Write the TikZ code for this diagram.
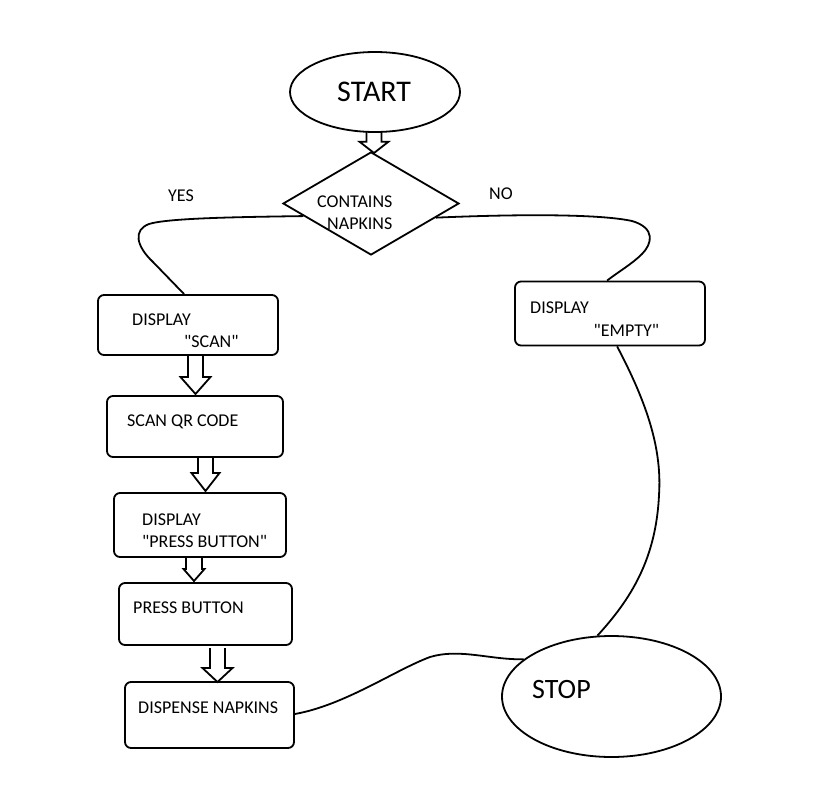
\documentclass[tikz,border=0pt]{standalone}
\usepackage{fontspec}
\setmainfont{Carlito}
\usetikzlibrary{shapes.geometric,calc}
\tikzset{
  ln/.style={line width=1.8pt, black},
  boxnode/.style={ln, draw, rounded corners=6pt, inner sep=0pt},
  ovalnode/.style={ln, draw, ellipse, inner sep=0pt},
  txt/.style={anchor=base west, inner sep=0pt, font=\fontsize{18}{22}\selectfont},
  bigtxt/.style={anchor=base west, inner sep=0pt},
}
\newcommand\blockarr[6]{% x, ytop, yhead, ytip, shaft half width, head half width
  \pgfmathsetmacro\baXa{#1-#6}%
  \pgfmathsetmacro\baXb{#1-#5}%
  \pgfmathsetmacro\baXc{#1+#5}%
  \pgfmathsetmacro\baXd{#1+#6}%
  \draw[ln, line join=miter] (\baXb,#2) -- (\baXb,#3) -- (\baXa,#3) -- (#1,#4) -- (\baXd,#3) -- (\baXc,#3) -- (\baXc,#2);
}
\newcommand\qq{\textquotedbl}
\begin{document}
\begin{tikzpicture}[x=1pt,y=-1pt]
\useasboundingbox (0,0) rectangle (818,795);
\fill[white] (0,0) rectangle (818,795);

% start
\node[ovalnode, minimum width=170pt, minimum height=80pt] (start) at (375,92) {};
\node[bigtxt, font=\fontsize{30}{34}\selectfont] (starttxt) at (337,101.5) {START};

% decision
\node[ln, draw, diamond, minimum width=176pt, minimum height=103pt, inner sep=0pt] (dia) at (371,203.5) {};
\node[txt] (dt1) at (317,207) {CONTAINS};
\node[txt] (dt2) at (327,229) {NAPKINS};

\node[txt] (yes) at (168,201.5) {YES};
\node[txt] (no) at (489,199) {NO};

% boxes
\node[boxnode, minimum width=180pt, minimum height=60pt] (scan) at (188,325) {};
\node[txt] (s1) at (132,325) {DISPLAY};
\node[txt] (s2) at (184,347) {\qq SCAN\qq};

\node[boxnode, minimum width=190pt, minimum height=64pt] (empty) at (610,313.5) {};
\node[txt] (e1) at (530,313) {DISPLAY};
\node[txt] (e2) at (593.5,336) {\qq EMPTY\qq};

\node[boxnode, minimum width=176pt, minimum height=61pt] (qr) at (195,426.5) {};
\node[txt] (q1) at (127,426) {SCAN QR CODE};

\node[boxnode, minimum width=172pt, minimum height=64pt] (dpb) at (200,525) {};
\node[txt] (p1) at (142,525) {DISPLAY};
\node[txt] (p2) at (142,547) {\qq PRESS BUTTON\qq};

\node[boxnode, minimum width=173pt, minimum height=62pt] (press) at (205.5,614) {};
\node[txt] (pr1) at (133,613) {PRESS BUTTON};

\node[boxnode, minimum width=169pt, minimum height=66pt] (disp) at (209.5,715) {};
\node[txt] (d1) at (138,713) {DISPENSE NAPKINS};

% stop
\node[ovalnode, minimum width=219pt, minimum height=121pt] (stop) at (611.5,696.5) {};
\node[bigtxt, font=\fontsize{28}{32}\selectfont] (stoptxt) at (532,698.5) {STOP};

% block arrows
\blockarr{374}{132}{141.7}{153}{7.5}{14.5}
\blockarr{195.5}{355}{377}{394}{7.5}{15}
\blockarr{205.5}{457}{473}{491}{7.5}{14}
\blockarr{194}{557}{569}{581}{8}{10.5}
\blockarr{217.5}{648}{668}{682}{7.5}{15}

% connector end points
\coordinate (yesS) at ($(dia.west)!0.24!(dia.south)$);
\coordinate (yesE) at ([xshift=87pt]scan.north west);
\coordinate (noS) at ($(dia.east)!0.27!(dia.south)$);
\coordinate (noE) at ([xshift=93pt]empty.north west);
\coordinate (emS) at ([xshift=103pt]empty.south west);
\coordinate (emE) at (stop.{103});
\coordinate (dsS) at ([yshift=1pt]disp.east);
\coordinate (dsE) at (stop.{157});

% curved connectors
\draw[ln] (yesS) .. controls (240,217) and (168,218) .. (149,224)
  .. controls (133,230) and (136,246) .. (153,262) -- (yesE);
\draw[ln] (noS) .. controls (520,214) and (600,214) .. (632,221)
  .. controls (656,228) and (652,244) .. (642,254)
  .. controls (632,264) and (618,272) .. (noE);
\draw[ln] (emS) .. controls (648,405) and (662,450) .. (659,495)
  .. controls (656,560) and (630,600) .. (emE);
\draw[ln] (dsS) .. controls (345,705) and (395,670) .. (430,657)
  .. controls (460,648) and (490,660) .. (dsE);
\end{tikzpicture}
\end{document}
